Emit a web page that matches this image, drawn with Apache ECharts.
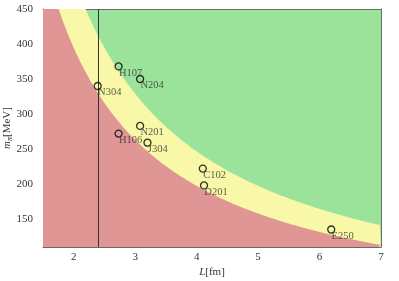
<!DOCTYPE html>
<html><head><meta charset="utf-8">
<script src="https://cdn.jsdelivr.net/npm/echarts@6/dist/echarts.min.js"></script>
<style>html,body{margin:0;padding:0;background:#fff}#c{width:399px;height:281px}</style>
</head><body><div id="c"></div>
<script>
const ensembles = ['H107','N204','N304','N201','H106','J304','C102','D201','E250'];
const lengthFm  = [2.73, 3.08, 2.39, 3.08, 2.73, 3.20, 4.10, 4.12, 6.19];
const mPionMeV  = [368, 350, 340, 283, 272, 259, 222, 198, 135];
const xTicks = [2, 3, 4, 5, 6, 7];
const yTicks = [150, 200, 250, 300, 350, 400, 450];
const mpiLLower = 4;   // red / yellow boundary  m_pi L = 4
const mpiLUpper = 5;   // yellow / green boundary m_pi L = 5
const hbarc = 197.327; // MeV fm
const cutLineL = 2.4;  // vertical reference line
const xRange = [1.5, 7];
const yRange = [110, 450];

const lSamples = [];
for (let L = xRange[0]; L <= xRange[1] + 1e-9; L += 0.02) lSamples.push(+L.toFixed(3));
const curve = c => lSamples.map(L => [L, c * hbarc / L]);

const font = "'Liberation Serif','DejaVu Serif',serif";
const axisCol = '#6a6a6a';
const txt = '#333';

const chart = echarts.init(document.getElementById('c'), null, {renderer: 'canvas'});
chart.setOption({
  animation: false,
  grid: {left: 43, right: 18, top: 9, bottom: 34, show: true, backgroundColor: '#9be39b', borderWidth: 0,
         containLabel: false, outerBoundsMode: 'none'},
  xAxis: [{
    type: 'value', min: xRange[0], max: xRange[1],
    name: '{i|L}[fm]', nameLocation: 'middle', nameGap: 20, nameMoveOverlap: false,
    nameTextStyle: {fontFamily: font, fontSize: 11, color: txt, rich: {i: {fontFamily: font, fontStyle: 'italic', fontSize: 11, color: txt}}},
    axisLine: {show: true, onZero: false, lineStyle: {color: axisCol, width: 1}},
    axisTick: {show: false}, splitLine: {show: false},
    axisLabel: {customValues: xTicks, fontFamily: font, fontSize: 11, color: txt, margin: 5}
  }, {
    type: 'value', min: xRange[0], max: xRange[1], position: 'top',
    axisLine: {show: true, onZero: false, lineStyle: {color: axisCol, width: 1}},
    axisTick: {show: false}, axisLabel: {show: false}, splitLine: {show: false}
  }],
  yAxis: [{
    type: 'value', min: yRange[0], max: yRange[1],
    name: '{i|m}{s|π}[MeV]', nameLocation: 'middle', nameGap: 29, nameRotate: 90, nameMoveOverlap: false,
    nameTextStyle: {fontFamily: font, fontSize: 11, color: txt, rich: {
      i: {fontFamily: font, fontStyle: 'italic', fontSize: 11, color: txt},
      s: {fontFamily: font, fontStyle: 'italic', fontSize: 8, color: txt, verticalAlign: 'bottom', padding: [6, 0, 0, 0]}}},
    axisLine: {show: true, onZero: false, lineStyle: {color: axisCol, width: 1}},
    axisTick: {show: false}, splitLine: {show: false},
    axisLabel: {customValues: yTicks, fontFamily: font, fontSize: 11, color: txt, margin: 10}
  }, {
    type: 'value', min: yRange[0], max: yRange[1], position: 'right',
    axisLine: {show: true, onZero: false, lineStyle: {color: axisCol, width: 1}},
    axisTick: {show: false}, axisLabel: {show: false}, splitLine: {show: false}
  }],
  series: [{
    type: 'line', data: curve(mpiLUpper), showSymbol: false, clip: true, silent: true,
    lineStyle: {width: 0}, areaStyle: {color: '#f8f8a8', opacity: 1, origin: 'start'}, z: 1
  }, {
    type: 'line', data: curve(mpiLLower), showSymbol: false, clip: true, silent: true,
    lineStyle: {width: 0}, areaStyle: {color: '#e19696', opacity: 1, origin: 'start'}, z: 2,
    markLine: {symbol: 'none', silent: true, label: {show: false},
      lineStyle: {color: '#333', width: 1, type: 'solid'}, data: [{xAxis: cutLineL}]}
  }, {
    type: 'scatter', z: 5,
    data: ensembles.map((n, i) => ({value: [lengthFm[i], mPionMeV[i]], name: n})),
    symbol: 'circle', symbolSize: 7,
    itemStyle: {color: 'rgba(0,0,0,0)', borderColor: '#000', borderWidth: 1.3},
    label: {show: true, formatter: p => p.name, position: [4.5, 5], align: 'left', verticalAlign: 'top',
      fontFamily: font, fontSize: 10.5, color: txt}
  }]
});
</script></body></html>
